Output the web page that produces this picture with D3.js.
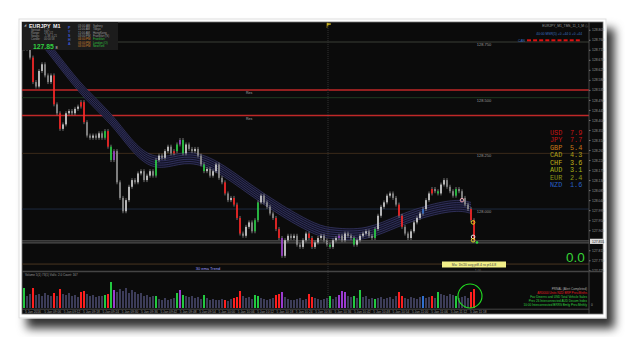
<!DOCTYPE html>
<html>
<head>
<meta charset="utf-8">
<script src="https://cdn.jsdelivr.net/npm/d3@7"></script>
<style>
body { margin: 0; background: #fff; }
svg { display: block; font-family: "Liberation Sans", Arial, sans-serif; }
</style>
</head>
<body>
<svg width="625" height="337"></svg>
<script>
// ---- data ----
var firstOpen = 128.74;
var closes = [
    128.72,128.72,128.68,128.57,128.55,128.62,128.65,128.60,128.57,128.60,
    128.47,128.43,128.36,128.38,128.43,128.44,128.43,128.45,128.46,128.48,
    128.39,128.33,128.32,128.33,128.32,128.34,128.32,128.35,128.28,128.22,
    128.26,128.12,128.05,127.99,128.04,128.10,128.13,128.12,128.16,128.17,
    128.13,128.15,128.17,128.15,128.22,128.24,128.23,128.26,128.28,128.25,
    128.26,128.29,128.31,128.25,128.29,128.27,128.26,128.27,128.24,128.20,
    128.17,128.18,128.15,128.17,128.20,128.14,128.12,128.07,128.04,128.05,
    128.02,127.96,127.89,127.88,127.92,127.94,127.90,127.95,128.03,128.06,
    128.03,128.01,127.98,127.96,127.91,127.87,127.79,127.86,127.88,127.87,
    127.88,127.84,127.83,127.86,127.89,127.87,127.83,127.85,127.87,127.88,
    127.86,127.84,127.83,127.86,127.87,127.88,127.86,127.89,127.88,127.87,
    127.84,127.86,127.88,127.89,127.90,127.88,127.87,127.91,127.97,128.01,
    128.03,128.06,128.07,128.05,128.02,127.97,127.92,127.89,127.87,127.90,
    127.94,127.96,127.98,128.00,128.04,128.07,128.09,128.08,128.07,128.11,
    128.13,128.10,128.08,128.06,128.09,128.08,128.05,128.02,128.00,127.95,
    127.86
];
var redBars = [3,10,12,19,20,28,50,67,70,71,72,84,85,95,96,125,126,136,149,150];
var greenBars = [27,29,44,51,53,60,77,78,102,110,117,138,144];
var purpleBars = [30,52,86,105];
var blueBars = [133];

var volumes = [
    20,12,14,20,13,14,12,15,13,12,
    15,12,19,14,13,15,12,13,11,16,
    17,14,12,13,11,12,12,13,14,26,
    18,16,19,17,20,15,18,16,14,15,
    12,13,11,12,12,9,8,10,8,9,
    10,15,18,13,12,11,12,10,11,9,
    13,10,8,9,8,8,9,8,7,9,
    10,11,17,12,10,11,9,13,12,10,
    9,8,9,10,13,14,16,11,9,8,
    8,9,10,8,9,14,11,10,9,8,
    9,10,12,9,11,13,17,16,12,11,
    12,10,18,11,12,9,10,9,10,11,
    9,10,11,9,12,16,12,10,9,11,
    10,9,11,12,10,11,12,10,16,14,
    13,12,14,13,12,10,11,12,10,16,
    19
];
var volRed = [3,10,12,19,20,28,67,70,71,72,84,85,95,96,125,126,136,149,150];
var volGreen = [0,27,29,44,51,53,60,77,78,102,110,112,117,138,144];
var volPurple = [30,52,86,105,106,107];
var volBlue = [133];

// ema ribbon centre: [bar index, price]
var ribbonCentre = [
    [6,128.76],[9,128.71],[13,128.64],[20,128.52],[29,128.41],[36,128.28],
    [42,128.21],[48,128.21],[55,128.24],[64,128.20],[75,128.09],[86,127.99],
    [98,127.90],[103,127.89],[114,127.88],[125,127.95],[136,128.00],
    [145,128.02],[149,128.005]
];

var quarterLevels = [128.75, 128.5, 128.25, 128.0];
var resLevels = [128.535, 128.42];
var rangeLevels = [127.857, 127.848];
var trendLevel = 127.753;

var axisTicks = [128.805,128.760,128.715,128.670,128.625,128.580,128.535,128.490,
    128.445,128.400,128.355,128.310,128.265,128.220,128.175,128.130,128.085,
    128.040,127.995,127.950,127.905,127.815,127.770,127.725];
var lastPrice = 127.855;

var timeLabels = ["5 Jan 2016","5 Jan 09:06","5 Jan 09:12","5 Jan 09:18","5 Jan 09:24",
    "5 Jan 09:30","5 Jan 09:36","5 Jan 09:42","5 Jan 09:48","5 Jan 09:54","5 Jan 10:00",
    "5 Jan 10:06","5 Jan 10:12","5 Jan 10:18","5 Jan 10:24","5 Jan 10:30","5 Jan 10:36",
    "5 Jan 10:42","5 Jan 10:48","5 Jan 10:54","5 Jan 11:00","5 Jan 11:06","5 Jan 11:12",
    "5 Jan 11:18"];

var currencies = ['USD','JPY','GBP','CAD','CHF','AUD','EUR','NZD'];
var strength = [7.9, 7.7, 5.4, 4.3, 3.6, 3.1, 2.4, 1.6];

var markIndex = [146, 149.7, 149.7, 149.7, 151];
var markPrice = [128.04, 127.94, 127.875, 127.86, 127.85];

var sessionTimes = ['03:00 AM','11:00 AM','11:00 AM','03:00 PM','04:00 PM','03:00 PM','03:00 PM'];
var sessionNames = ['Sydney','Tokyo','HongKong','Frankfurt (S)','Frankfurt','London (O)','NewYork'];

// ---- layout ----
var svg = d3.select('svg');
var plot = {l: 22, r: 589, t: 22, b: 271};
var vol = {t: 272, b: 308};

var xScale = d3.scaleLinear().domain([0, 150]).range([24, 474]);
var yScale = d3.scaleLinear().domain([127.725, 128.805]).range([270.3, 29.75]);
var vScale = d3.scaleLinear().domain([0, 30]).range([vol.b, vol.b - 30]);

var defs = svg.append('defs');
var f = defs.append('filter').attr('id', 'shadow')
    .attr('x', '-5%').attr('y', '-5%').attr('width', '115%').attr('height', '125%');
f.append('feDropShadow').attr('dx', 8).attr('dy', 10).attr('stdDeviation', 5)
    .attr('flood-color', '#000').attr('flood-opacity', 0.8);
defs.append('clipPath').attr('id', 'plotClip').append('rect')
    .attr('x', plot.l).attr('y', plot.t).attr('width', plot.r - plot.l).attr('height', plot.b - plot.t);

// frame + dark panel
svg.append('rect').attr('x', 19).attr('y', 19).attr('width', 587).attr('height', 299)
    .attr('fill', '#fff').attr('stroke', '#ddd').attr('filter', 'url(#shadow)');
svg.append('rect').attr('x', 22).attr('y', 22).attr('width', 581).attr('height', 292)
    .attr('fill', '#0b0b0b').attr('stroke', '#777').attr('stroke-width', 0.8);

var chartG = svg.append('g').attr('clip-path', 'url(#plotClip)');

// vertical session line
svg.append('line').attr('x1', 328).attr('x2', 328).attr('y1', 22).attr('y2', vol.b)
    .attr('stroke', '#333').attr('stroke-dasharray', '1,1');
svg.append('path').attr('d', 'M327,23 L327,28 M327,23 L331,24 L327,25.5')
    .attr('stroke', '#c8b020').attr('fill', '#c8b020').attr('stroke-width', 0.6);

// horizontal levels
var levelColours = ['#3a3f36', '#1f3820', '#3a2a1a', '#1e2a40'];
quarterLevels.forEach(function(p, k) {
    chartG.append('line').attr('x1', plot.l).attr('x2', plot.r)
        .attr('y1', yScale(p)).attr('y2', yScale(p))
        .attr('stroke', levelColours[k]).attr('stroke-width', 1);
    chartG.append('text').attr('x', 484).attr('y', yScale(p) + 4)
        .attr('text-anchor', 'middle').attr('font-size', 4).attr('fill', '#999')
        .text(d3.format('.3f')(p));
});
resLevels.forEach(function(p) {
    chartG.append('line').attr('x1', plot.l).attr('x2', plot.r)
        .attr('y1', yScale(p)).attr('y2', yScale(p))
        .attr('stroke', '#c02828').attr('stroke-width', 1.5);
    chartG.append('text').attr('x', 246).attr('y', yScale(p) + 4)
        .attr('font-size', 3.5).attr('fill', '#aaa').text('Res');
});
rangeLevels.forEach(function(p) {
    chartG.append('line').attr('x1', plot.l).attr('x2', plot.r)
        .attr('y1', yScale(p)).attr('y2', yScale(p))
        .attr('stroke', '#9a9a9a').attr('stroke-width', 0.6);
});
chartG.append('line').attr('x1', plot.l).attr('x2', plot.r)
    .attr('y1', yScale(trendLevel)).attr('y2', yScale(trendLevel))
    .attr('stroke', '#4a3520').attr('stroke-width', 1);
chartG.append('text').attr('x', 208).attr('y', 269.5).attr('text-anchor', 'middle')
    .attr('font-size', 4).attr('fill', '#9a9aff').text('30 ema Trend');

// ema ribbon
var spreadPx = [-5.5, -3.3, -1.1, 1.1, 3.3, 5.5];
var ribbonArea = d3.area()
    .x(function(d) { return xScale(d[0]); })
    .y0(function(d) { return yScale(d[1]) - 5.5; })
    .y1(function(d) { return yScale(d[1]) + 5.5; })
    .curve(d3.curveBasis);
chartG.append('path').datum(ribbonCentre).attr('d', ribbonArea)
    .attr('fill', '#121224');
spreadPx.forEach(function(off) {
    var line = d3.line()
        .x(function(d) { return xScale(d[0]); })
        .y(function(d) { return yScale(d[1]) + off; })
        .curve(d3.curveBasis);
    chartG.append('path').datum(ribbonCentre).attr('d', line)
        .attr('fill', 'none').attr('stroke', '#4e4e92').attr('stroke-width', 0.5);
});

// candles
function barColour(i, up) {
    if (redBars.indexOf(i) >= 0) return '#ff1e1e';
    if (greenBars.indexOf(i) >= 0) return '#22d040';
    if (purpleBars.indexOf(i) >= 0) return '#a040d0';
    if (blueBars.indexOf(i) >= 0) return '#3070d0';
    return up ? '#d4d4d4' : '#8e8e8e';
}
var candles = closes.map(function(c, i) {
    return {i: i, o: i === 0 ? firstOpen : closes[i - 1], c: c};
});
var candleG = chartG.selectAll('.candle').data(candles).enter()
    .append('g').attr('class', 'candle');
candleG.append('line')
    .attr('x1', function(d) { return xScale(d.i); })
    .attr('x2', function(d) { return xScale(d.i); })
    .attr('y1', function(d) { return yScale(Math.max(d.o, d.c)) - 2; })
    .attr('y2', function(d) { return yScale(Math.min(d.o, d.c)) + 2; })
    .attr('stroke', '#a0a0a0').attr('stroke-width', 0.7);
candleG.append('rect')
    .attr('x', function(d) { return xScale(d.i) - 0.8; })
    .attr('width', 1.6)
    .attr('y', function(d) { return yScale(Math.max(d.o, d.c)); })
    .attr('height', function(d) { return Math.max(1, Math.abs(yScale(d.o) - yScale(d.c))); })
    .attr('fill', function(d) { return barColour(d.i, d.c >= d.o); });

// signal marks
var markColours = ['#ffb0c0', '#e8e020', '#ffffff', '#e8e020', '#30e040'];
markIndex.forEach(function(mi, k) {
    chartG.append('circle').attr('cx', xScale(mi)).attr('cy', yScale(markPrice[k]))
        .attr('r', k === 4 ? 0.9 : 1.8)
        .attr('fill', k === 4 ? markColours[k] : 'none')
        .attr('stroke', markColours[k]).attr('stroke-width', 0.9);
});

// yellow info label
svg.append('rect').attr('x', 442).attr('y', 261.5).attr('width', 64).attr('height', 6)
    .attr('fill', '#f2ef88');
svg.append('text').attr('x', 474).attr('y', 266).attr('text-anchor', 'middle')
    .attr('font-size', 3.4).attr('fill', '#444').text('Ma: 1h/20 avg pt8.4 ro pt14.8');
svg.append('text').attr('x', 478).attr('y', 272).attr('text-anchor', 'middle')
    .attr('font-size', 3).attr('fill', '#777').text('1.00');

// currency strength table
var strengthColours = ['#c81414','#c81414','#c87818','#b0a018','#c0b418','#a8b418','#8c9818','#2860c8'];
currencies.forEach(function(c, k) {
    svg.append('text').attr('x', 550).attr('y', 135 + k * 7.45)
        .attr('font-family', '"Liberation Mono", monospace').attr('font-size', 6.8)
        .attr('fill', strengthColours[k]).text(c);
    svg.append('text').attr('x', 570).attr('y', 135 + k * 7.45)
        .attr('font-family', '"Liberation Mono", monospace').attr('font-size', 6.8)
        .attr('fill', strengthColours[k]).text(d3.format('.1f')(strength[k]));
});
svg.append('text').attr('x', 566).attr('y', 262).attr('font-size', 13.5)
    .attr('fill', '#36d236').text('0.0');

// top right indicator texts
svg.append('text').attr('x', 588).attr('y', 26.5).attr('text-anchor', 'end')
    .attr('font-size', 3.3).attr('fill', '#999').text('EURJPY_M1_TMS_11_1_M \u24d8');
svg.append('text').attr('x', 582).attr('y', 34.5).attr('text-anchor', 'end')
    .attr('font-size', 3.3).attr('fill', '#3a70c0').text('40:00 MSR(5)  +0  +44   0   +0  +44');
svg.append('text').attr('x', 518).attr('y', 41.5)
    .attr('font-size', 3.3).attr('fill', '#3a70c0').text('CAN');
d3.range(9).forEach(function(k) {
    svg.append('rect').attr('x', 527 + k * 6.1).attr('y', 39.3).attr('width', 4).attr('height', 2)
        .attr('fill', '#dd1111');
});

// info box
svg.append('rect').attr('x', 22).attr('y', 22).attr('width', 96).attr('height', 28)
    .attr('fill', '#1c1c1c');
svg.append('text').attr('x', 23.5).attr('y', 26).attr('font-size', 3).attr('fill', '#aaa').text('\u25e2');
svg.append('text').attr('x', 29).attr('y', 27.8).attr('font-size', 5.4).attr('font-weight', 'bold')
    .attr('fill', '#eee').text('EURJPY');
svg.append('text').attr('x', 53).attr('y', 27.8).attr('font-size', 5.4).attr('font-weight', 'bold')
    .attr('fill', '#eee').text('M1');
var infoLabels = ['Spread:', 'Range:', 'Swaps:', 'Candle:'];
var infoValues = ['1.20', '195 1/2', '-1.38 -0.21', '00:00:58'];
infoLabels.forEach(function(t, k) {
    svg.append('text').attr('x', 31).attr('y', 30.8 + k * 3.1).attr('font-size', 2.7)
        .attr('fill', '#999').text(t);
    svg.append('text').attr('x', 44).attr('y', 30.8 + k * 3.1).attr('font-size', 2.7)
        .attr('fill', '#999').text(infoValues[k]);
});
svg.append('text').attr('x', 33).attr('y', 48.6).attr('font-size', 6.8).attr('font-weight', 'bold')
    .attr('fill', '#30d040').text('127.85');
svg.append('text').attr('x', 55.5).attr('y', 48.6).attr('font-size', 3.8).attr('fill', '#ddd').text('8');
['P', 'Y', 'S', 'H', 'A'].forEach(function(t, k) {
    svg.append('text').attr('x', 68).attr('y', 28.5 + k * 4).attr('font-size', 3.6)
        .attr('font-weight', 'bold').attr('fill', '#3a5ad8').text(t);
});
sessionTimes.forEach(function(t, k) {
    var c = k < 4 ? '#999' : '#d08030';
    svg.append('text').attr('x', 78).attr('y', 26.8 + k * 3.35).attr('font-size', 2.9)
        .attr('fill', c).text(t);
    svg.append('text').attr('x', 93).attr('y', 26.8 + k * 3.35).attr('font-size', 2.9)
        .attr('fill', k < 4 ? '#999' : '#30c040').text(sessionNames[k]);
});

// price axis
svg.append('line').attr('x1', plot.r).attr('x2', plot.r).attr('y1', 22).attr('y2', 314)
    .attr('stroke', '#555').attr('stroke-width', 0.8);
var yAxisG = svg.append('g').attr('transform', 'translate(' + [plot.r, 0] + ')')
    .call(d3.axisRight(yScale).tickValues(axisTicks).tickFormat(d3.format('.3f')).tickSize(1.5).tickPadding(1.5));
yAxisG.select('.domain').remove();
yAxisG.selectAll('line').attr('stroke', '#777');
yAxisG.selectAll('text').attr('font-size', 3.4).attr('fill', '#999')
    .attr('font-family', '"Liberation Sans", Arial, sans-serif');
svg.append('rect').attr('x', plot.r + 1).attr('y', yScale(lastPrice) - 2.6).attr('width', 13).attr('height', 5.2)
    .attr('fill', '#d8d8d8');
svg.append('text').attr('x', plot.r + 3).attr('y', yScale(lastPrice) + 1.2).attr('font-size', 3.4)
    .attr('fill', '#222').text(d3.format('.3f')(lastPrice));

// volume panel
svg.append('line').attr('x1', 22).attr('x2', 603).attr('y1', 271.5).attr('y2', 271.5)
    .attr('stroke', '#444').attr('stroke-width', 1.5);
svg.append('line').attr('x1', 22).attr('x2', plot.r).attr('y1', 309.2).attr('y2', 309.2)
    .attr('stroke', '#555').attr('stroke-width', 0.8);
svg.append('text').attr('x', 25).attr('y', 276).attr('font-size', 3).attr('fill', '#999')
    .text('Volume 5(1) 73(1)   Vol/s: 2.0   Count: 167');
function volColour(i) {
    if (volRed.indexOf(i) >= 0) return '#ff1e1e';
    if (volGreen.indexOf(i) >= 0) return '#22c840';
    if (volPurple.indexOf(i) >= 0) return '#9a3ad0';
    if (volBlue.indexOf(i) >= 0) return '#3070d0';
    return '#3c3c58';
}
svg.selectAll('.vbar').data(volumes).enter().append('rect').attr('class', 'vbar')
    .attr('x', function(d, i) { return xScale(i) - 1; })
    .attr('width', 2)
    .attr('y', function(d) { return vScale(d); })
    .attr('height', function(d) { return vol.b - vScale(d); })
    .attr('fill', function(d, i) { return volColour(i); });
svg.append('circle').attr('cx', 470).attr('cy', 296).attr('r', 12)
    .attr('fill', 'none').attr('stroke', '#22dd22').attr('stroke-width', 1.1);
svg.append('text').attr('x', 591).attr('y', 306).attr('font-size', 3.2).attr('fill', '#999').text('0');

var newsLines = ['PRNAL (Alert Completed)', 'AR0000 Units NZD BRP Prev.Mnths',
    'Fav Dinerns and USD Total Vehicle Sales', 'Prev 26 Interconnected AUD Decom Index',
    '10:00 Interconnected BRRS Bmfg Prev.Mnthly'];
var newsColours = ['#aaa', '#e02020', '#30d040', '#30d040', '#30d040'];
newsLines.forEach(function(t, k) {
    svg.append('text').attr('x', 587).attr('y', 290 + k * 4).attr('text-anchor', 'end')
        .attr('font-size', 3.1).attr('fill', newsColours[k]).text(t);
});

// time axis
var tScale = d3.scaleLinear().domain([0, timeLabels.length - 1]).range([25, 470]);
timeLabels.forEach(function(t, k) {
    svg.append('text').attr('x', tScale(k)).attr('y', 312.5).attr('font-size', 3.2)
        .attr('fill', '#999').text(t);
});
</script>
</body>
</html>
